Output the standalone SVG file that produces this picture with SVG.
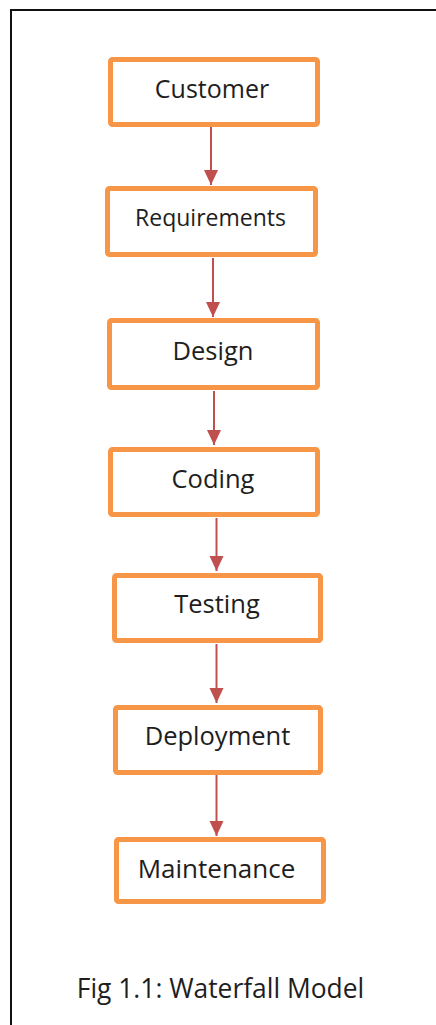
<svg xmlns="http://www.w3.org/2000/svg" width="436" height="1025" viewBox="0 0 436 1025">
<style>
.box{fill:#fff;stroke:#F79646;stroke-width:5}
.lbl{font-family:"Open Sans","Noto Sans",sans-serif;font-size:25.5px;fill:#1e1e1e;text-anchor:middle}
.arr{stroke:#C0504D;stroke-width:2;fill:none;marker-end:url(#ah)}
</style>
<defs>
<marker id="ah" markerUnits="userSpaceOnUse" markerWidth="16" markerHeight="16" refX="15" refY="7" orient="auto">
<path d="M0,0 L15,7 L0,14 Z" fill="#C0504D"/>
</marker>
</defs>
<rect width="436" height="1025" fill="#fff"/>
<path d="M11,1025 V10 H436" fill="none" stroke="#111" stroke-width="2"/>
<g id="connectors">
<path class="arr" d="M211,127 V185"/>
<path class="arr" d="M213,258 V317"/>
<path class="arr" d="M214,391 V445"/>
<path class="arr" d="M216.5,518 V571"/>
<path class="arr" d="M216.5,644 V703"/>
<path class="arr" d="M216.5,775 V836"/>
</g>
<g id="customer"><rect class="box" x="110.5" y="59.5" width="207" height="65" rx="2"/><text class="lbl" x="212" y="98" style="font-size:25px">Customer</text></g>
<g id="requirements"><rect class="box" x="107.5" y="188.5" width="208" height="66" rx="2"/><text class="lbl" x="210.5" y="226" style="font-size:23px">Requirements</text></g>
<g id="design"><rect class="box" x="109.5" y="320.5" width="208" height="67" rx="2"/><text class="lbl" x="213" y="360">Design</text></g>
<g id="coding"><rect class="box" x="110.5" y="449.5" width="207" height="65" rx="2"/><text class="lbl" x="213" y="488">Coding</text></g>
<g id="testing"><rect class="box" x="114.5" y="575.5" width="206" height="65" rx="2"/><text class="lbl" x="217" y="613">Testing</text></g>
<g id="deployment"><rect class="box" x="115.5" y="707.5" width="205" height="65" rx="2"/><text class="lbl" x="217.5" y="745">Deployment</text></g>
<g id="maintenance"><rect class="box" x="116.5" y="839.5" width="207" height="62" rx="2"/><text class="lbl" x="216.5" y="878" style="font-size:26px">Maintenance</text></g>
<text class="lbl" x="220.5" y="998" style="font-size:26.4px">Fig 1.1: Waterfall Model</text>
</svg>
